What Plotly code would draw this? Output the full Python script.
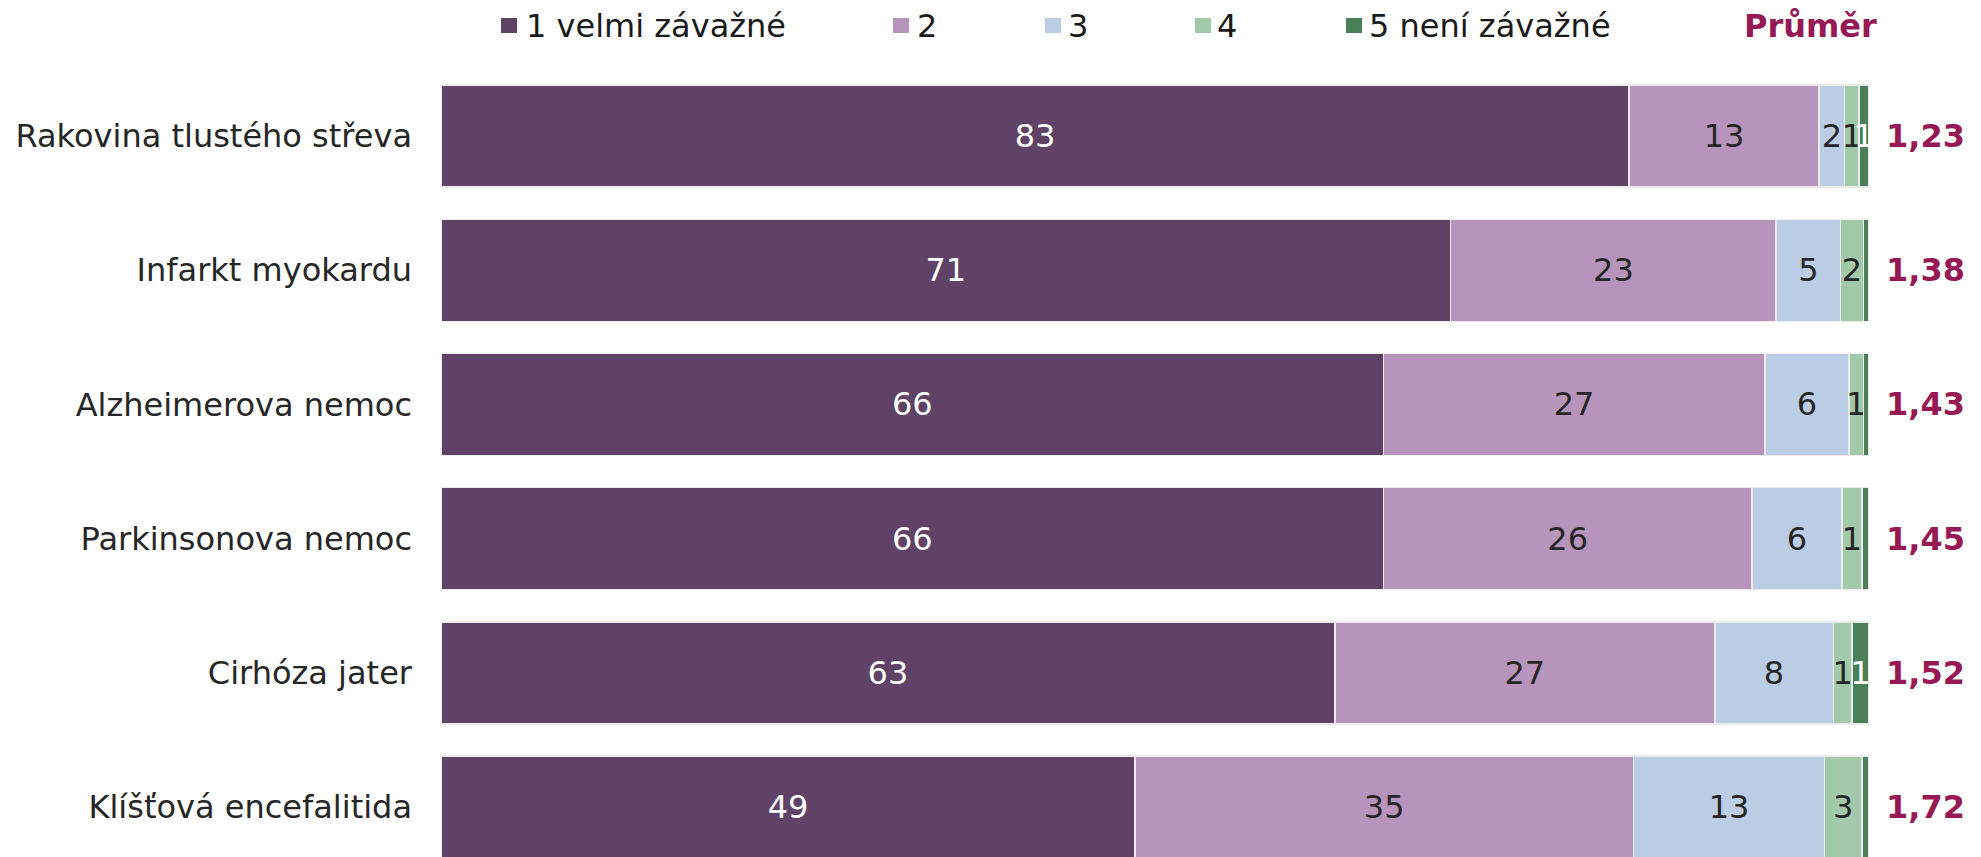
import plotly.graph_objects as go

categories = ["Rakovina tlustého střeva", "Infarkt myokardu", "Alzheimerova nemoc",
              "Parkinsonova nemoc", "Cirhóza jater", "Klíšťová encefalitida"]

series_names = ["1 velmi závažné", "2", "3", "4", "5 není závažné"]

s1 = [83.2, 70.7, 66.0, 66.0, 62.6, 48.6]
s2 = [13.3, 22.8, 26.7, 25.8, 26.6, 34.9]
s3 = [1.8, 4.5, 5.9, 6.3, 8.3, 13.4]
s4 = [1.0, 1.6, 1.0, 1.4, 1.3, 2.6]
s5 = [0.7, 0.4, 0.4, 0.5, 1.2, 0.5]

l1 = ["83", "71", "66", "66", "63", "49"]
l2 = ["13", "23", "27", "26", "27", "35"]
l3 = ["2", "5", "6", "6", "8", "13"]
l4 = ["1", "2", "1", "1", "1", "3"]
l5 = ["1", "", "", "", "1", ""]

means = ["1,23", "1,38", "1,43", "1,45", "1,52", "1,72"]
mean_title = "Průměr"

colors = ["#604266", "#b794bc", "#bacde5", "#a3c9ab", "#4a7f5a"]
text_colors = ["white", "#262626", "#262626", "#262626", "white"]
MEAN_COLOR = "#961955"
FONT = "DejaVu Sans"
FS = 32

# page is offset by the default 8px body margin
OFF = 8
PAGE_W, PAGE_H = 1981, 857
W, H = PAGE_W - OFF, PAGE_H - OFF
# plot area in page pixels: x 441..1869, y 69..857
ML = 441 - OFF
MR = PAGE_W - 1869
MT = 69 - OFF
MB = 0
PW = W - ML - MR
PH = H - MT - MB


def px2x(px):
    return (px - OFF - ML) / PW


def px2y(py):
    return (H - MB - (py - OFF)) / PH


fig = go.Figure()
values = [s1, s2, s3, s4, s5]
labels = [l1, l2, l3, l4, l5]
for name, v, lab, c, tc in zip(series_names, values, labels, colors, text_colors):
    fig.add_trace(go.Bar(
        y=categories, x=v, orientation="h", name=name,
        marker=dict(color=c, line=dict(color="#ececec", width=1.5)),
        text=lab, textposition="inside", insidetextanchor="middle",
        textangle=0, constraintext="none",
        textfont=dict(family=FONT, size=FS, color=tc),
        hoverinfo="x+y", showlegend=False,
    ))

annotations = []
for cat, m in zip(categories, means):
    annotations.append(dict(
        x=px2x(1884), xref="paper", y=cat, yref="y", xanchor="left", yanchor="middle",
        text="<b>%s</b>" % m, showarrow=False,
        font=dict(family=FONT, size=FS, color=MEAN_COLOR),
    ))

# custom legend
legend_marker_x = [501, 893, 1045, 1195, 1346]
legend_text_x = [525, 916, 1067, 1216, 1368]
legend_y = 26
shapes = []
for name, c, mx, tx in zip(series_names, colors, legend_marker_x, legend_text_x):
    shapes.append(dict(type="rect", xref="paper", yref="paper",
                       x0=px2x(mx), x1=px2x(mx + 16), y0=px2y(33), y1=px2y(18),
                       fillcolor=c, line=dict(width=0)))
    annotations.append(dict(x=px2x(tx), xref="paper", y=px2y(legend_y), yref="paper",
                            xanchor="left", yanchor="middle", text=name, showarrow=False,
                            borderpad=0,
                            font=dict(family=FONT, size=FS, color="#1a1a1a")))
annotations.append(dict(x=px2x(1810), xref="paper", y=px2y(legend_y), yref="paper",
                        xanchor="center", yanchor="middle", text="<b>%s</b>" % mean_title,
                        showarrow=False, borderpad=0,
                        font=dict(family=FONT, size=FS, color=MEAN_COLOR)))

fig.update_layout(
    width=W, height=H,
    margin=dict(l=ML, r=MR, t=MT, b=MB, pad=0),
    barmode="stack", bargap=0.24,
    plot_bgcolor="white", paper_bgcolor="white",
    font=dict(family=FONT, size=FS, color="#262626"),
    xaxis=dict(range=[0, 100], visible=False, fixedrange=True),
    yaxis=dict(type="category", categoryorder="array", categoryarray=categories,
               range=[5.373, -0.5], showgrid=False, zeroline=False, showline=False,
               ticks="", ticklabelstandoff=28,
               tickfont=dict(family=FONT, size=FS, color="#262626")),
    annotations=annotations, shapes=shapes,
)

fig.write_html("out.html")
